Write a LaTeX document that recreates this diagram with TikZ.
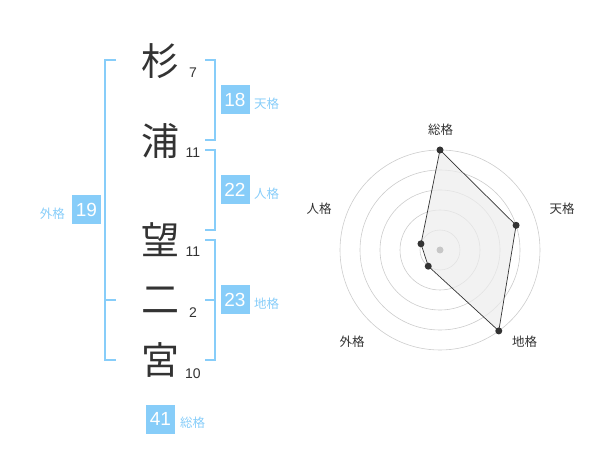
\documentclass[tikz,border=0pt]{standalone}
\usepackage{fontspec}
\setmainfont{Liberation Sans}
\newfontfamily\jpfont{Noto Sans CJK JP}
\definecolor{kakublue}{HTML}{87CDF9}
\definecolor{ringgray}{HTML}{CCCCCC}
\definecolor{inkgray}{HTML}{333333}
\tikzset{
  kanji/.style={font=\jpfont\fontsize{38}{38}\selectfont, text=inkgray, inner sep=0pt},
  strokecount/.style={font=\fontsize{14}{14}\selectfont, text=inkgray, inner sep=0pt, anchor=base},
  kakubox/.style={fill=kakublue, text=white, minimum size=29pt, inner sep=0pt, font=\fontsize{19}{19}\selectfont},
  kakuname/.style={font=\jpfont\fontsize{12.5}{12.5}\selectfont, text=kakublue, inner sep=0pt},
  bracket/.style={draw=kakublue, line width=2pt},
  axisname/.style={font=\jpfont\fontsize{12.5}{12.5}\selectfont, text=inkgray, inner sep=0pt},
  datadot/.style={circle, fill=inkgray, minimum size=7pt, inner sep=0pt},
}
\begin{document}
\begin{tikzpicture}[x=1pt, y=-1pt]
    \useasboundingbox (0,0) rectangle (600,470);
    % name characters and stroke counts
    \node[kanji] (c1) at (160,61) {杉};
    \node[kanji] (c2) at (160,141) {浦};
    \node[kanji] (c3) at (160,240) {望};
    \node[kanji] (c4) at (160,300) {二};
    \node[kanji] (c5) at (160,360) {宮};
    \node[strokecount] (n1) at (193,78) {7};
    \node[strokecount] (n2) at (193,158) {11};
    \node[strokecount] (n3) at (193,257) {11};
    \node[strokecount] (n4) at (193,318) {2};
    \node[strokecount] (n5) at (193,378) {10};
    % brackets
    \draw[bracket] (116,60) -- (105,60) -- (105,360) -- (116,360);
    \draw[bracket] (105,300) -- (116,300);
    \draw[bracket] (205,60) -- (215,60) -- (215,140) -- (205,140);
    \draw[bracket] (205,150) -- (215,150) -- (215,230) -- (205,230);
    \draw[bracket] (205,240) -- (215,240) -- (215,360) -- (205,360);
    \draw[bracket] (215,300) -- (205,300);
    % scores
    \node[kakubox] (gai) at (86.5,210) {19};
    \node[kakuname, anchor=east] (gailbl) at (65,214) {外格};
    \node[kakubox] (ten) at (235,100) {18};
    \node[kakuname, anchor=west] (tenlbl) at (254,104) {天格};
    \node[kakubox] (jin) at (235,190) {22};
    \node[kakuname, anchor=west] (jinlbl) at (254,194) {人格};
    \node[kakubox] (chi) at (235,300) {23};
    \node[kakuname, anchor=west] (chilbl) at (254,304) {地格};
    \node[kakubox] (sou) at (160.5,419) {41};
    \node[kakuname, anchor=west] (soulbl) at (180,423) {総格};
    % radar chart
    \begin{scope}[shift={(440,250)}, y=1pt]
        \foreach \r in {20,40,...,100}
            \draw[ringgray, line width=0.6pt] (0,0) circle (\r);
        \coordinate (r1) at (90:100);
        \coordinate (r2) at (18:80);
        \coordinate (r3) at (-54:100);
        \coordinate (r4) at (234:20);
        \coordinate (r5) at (162:20);
        \draw[inkgray, line width=0.7pt, fill=black!7, fill opacity=0.7]
            (r1) -- (r2) -- (r3) -- (r4) -- (r5) -- cycle;
        \fill[black!22] (0,0) circle (3.5);
        \foreach \i in {1,...,5}
            \node[datadot] (d\i) at (r\i) {};
    \end{scope}
    \node[axisname] (ax1) at (440.5,130) {総格};
    \node[axisname] (ax2) at (562,209) {天格};
    \node[axisname] (ax3) at (524.5,342) {地格};
    \node[axisname] (ax4) at (352,342) {外格};
    \node[axisname] (ax5) at (319,209) {人格};
\end{tikzpicture}
\end{document}
